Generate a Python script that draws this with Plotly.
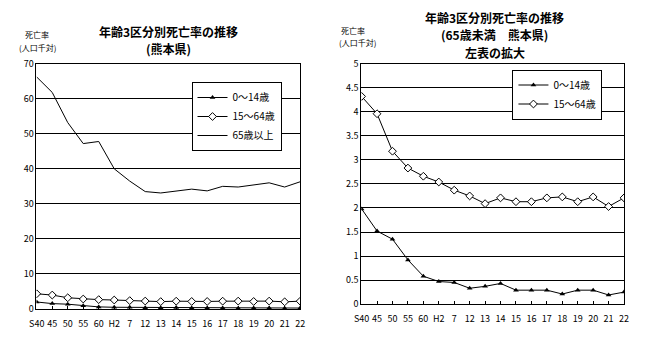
import plotly.graph_objects as go

categories = ["S40", "45", "50", "55", "60", "H2", "7", "12", "13", "14",
              "15", "16", "17", "18", "19", "20", "21", "22"]
tick_text = ["S40", "45", "50", "55", "60", "H2", "7", "12", "13", "14",
             "15", "16", "17", "18", "19", "20", "21", "22"]
age_0_14 = [1.98, 1.52, 1.35, 0.92, 0.58, 0.47, 0.45, 0.33, 0.37, 0.43,
            0.29, 0.29, 0.29, 0.21, 0.29, 0.29, 0.19, 0.25]
age_15_64 = [4.32, 3.96, 3.18, 2.83, 2.66, 2.54, 2.37, 2.25, 2.09, 2.21,
             2.13, 2.13, 2.21, 2.23, 2.13, 2.23, 2.03, 2.21]
age_65_plus = [66.2, 61.8, 53.2, 47.2, 47.8, 40.0, 36.5, 33.5, 33.1, 33.6,
               34.2, 33.7, 35.0, 34.8, 35.4, 36.0, 34.8, 36.3]

FONT = "Noto Sans CJK JP"
W, H = 647, 338

def px_x(a, b):
    return [a / W, b / W]

def px_y(top, bottom):
    return [(H - bottom) / H, (H - top) / H]

fig = go.Figure()

tri = dict(symbol="triangle-up", size=5, color="black")
dia = dict(symbol="diamond", size=6, color="white", line=dict(color="black", width=1))
line = dict(color="black", width=1)

# left chart
fig.add_trace(go.Scatter(x=categories, y=age_0_14, mode="lines+markers", name="0～14歳",
                         line=line, marker=tri, xaxis="x", yaxis="y", legend="legend"))
fig.add_trace(go.Scatter(x=categories, y=age_15_64, mode="lines+markers", name="15～64歳",
                         line=line, marker=dia, xaxis="x", yaxis="y", legend="legend"))
fig.add_trace(go.Scatter(x=categories, y=age_65_plus, mode="lines", name="65歳以上",
                         line=line, xaxis="x", yaxis="y", legend="legend"))
# right chart
fig.add_trace(go.Scatter(x=categories, y=age_0_14, mode="lines+markers", name="0～14歳",
                         line=line, marker=tri, xaxis="x2", yaxis="y2", legend="legend2"))
fig.add_trace(go.Scatter(x=categories, y=age_15_64, mode="lines+markers", name="15～64歳",
                         line=line, marker=dia, xaxis="x2", yaxis="y2", legend="legend2"))

xcommon = dict(type="category", tickmode="array", tickvals=categories, ticktext=tick_text,
               showline=True, linecolor="black", linewidth=1, mirror=True,
               ticks="inside", ticklen=3, tickcolor="black", showgrid=False,
               tickangle=0, ticklabelstandoff=6,
               tickfont=dict(family=FONT, size=9, color="black"), zeroline=False)
ycommon = dict(showline=True, linecolor="black", linewidth=1, mirror=True,
               ticks="", showgrid=True, gridcolor="black", gridwidth=1,
               tickfont=dict(family=FONT, size=9, color="black"), zeroline=False)

fig.update_layout(
    width=W, height=H, margin=dict(l=0, r=0, t=0, b=0),
    paper_bgcolor="white", plot_bgcolor="white",
    font=dict(family=FONT, color="black"),
    xaxis=dict(xcommon, domain=px_x(30, 299), anchor="y", range=[-0.02, 17.02]),
    yaxis=dict(ycommon, domain=px_y(59, 314), anchor="x", range=[0, 70], dtick=10),
    xaxis2=dict(xcommon, domain=px_x(361, 629), anchor="y2", range=[-0.02, 17.02]),
    yaxis2=dict(ycommon, domain=px_y(59, 309), anchor="x2", range=[0, 5], dtick=0.5,
                tickformat=".1~f"),
    legend=dict(x=188 / W, y=(H - 78) / H, xanchor="left", yanchor="top",
                bgcolor="white", bordercolor="black", borderwidth=1,
                font=dict(family=FONT, size=10, color="black"), tracegroupgap=0,
                itemwidth=30),
    legend2=dict(x=515 / W, y=(H - 65) / H, xanchor="left", yanchor="top",
                 bgcolor="white", bordercolor="black", borderwidth=1,
                 font=dict(family=FONT, size=10, color="black"), tracegroupgap=0,
                 itemwidth=30),
    showlegend=True,
)

annos = [
    dict(text="<b>年齢3区分別死亡率の推移</b>", x=165, y=25, size=12),
    dict(text="<b>(熊本県)</b>", x=165, y=43, size=12),
    dict(text="<b>年齢3区分別死亡率の推移</b>", x=497, y=11, size=12),
    dict(text="<b>(65歳未満　熊本県)</b>", x=497, y=29, size=12),
    dict(text="<b>左表の拡大</b>", x=497, y=47, size=12),
    dict(text="死亡率", x=31, y=29, size=8),
    dict(text="(人口千対)", x=31, y=42, size=8),
    dict(text="死亡率", x=353, y=24, size=8),
    dict(text="(人口千対)", x=357, y=37, size=8),
]
for a in annos:
    fig.add_annotation(text=a["text"], x=a["x"] / W, y=(H - a["y"]) / H,
                       xref="paper", yref="paper", showarrow=False,
                       xanchor="center", yanchor="middle", align="center",
                       font=dict(family=FONT, size=a["size"], color="black"))

fig.write_html("out.html")
